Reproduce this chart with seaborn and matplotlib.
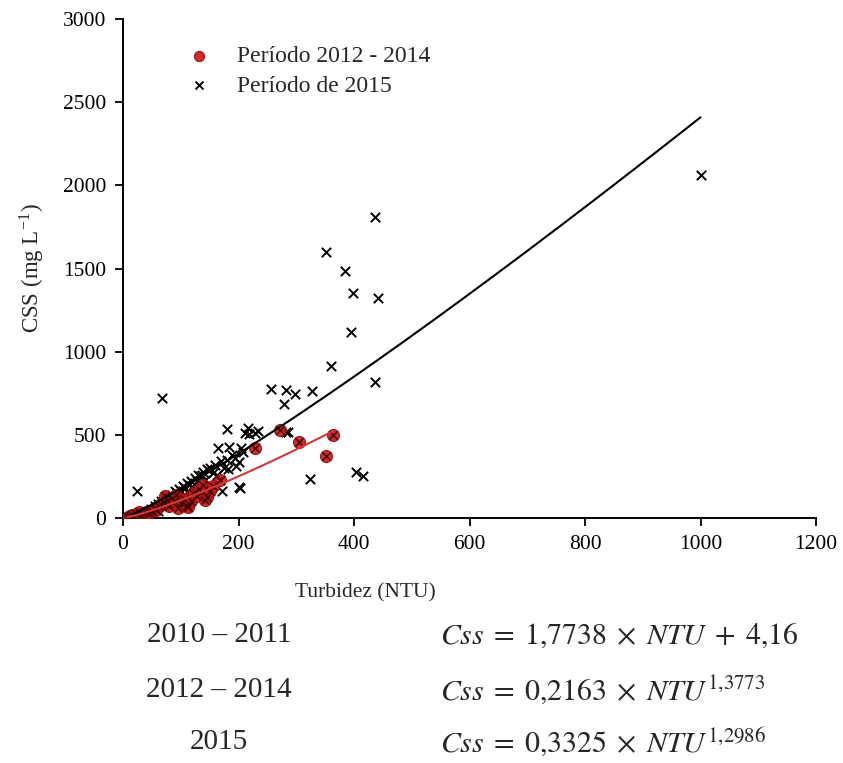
import numpy as np
import pandas as pd
import matplotlib
matplotlib.use("Agg")
import matplotlib.pyplot as plt
import seaborn as sns

# ---------------- data ----------------
ntu_1214 = [8, 12, 15, 18, 22, 27, 30, 35, 40, 45, 50, 55, 58, 62, 66, 70, 73, 76, 80, 84,
            88, 92, 96, 100, 105, 110, 113, 118, 122, 128, 132, 138, 142, 145, 150, 155,
            168, 229, 271, 304, 352, 363]
css_1214 = [5, 15, 18, 10, 25, 38, 20, 30, 35, 28, 45, 60, 50, 70, 85, 95, 132, 110, 75, 120,
            100, 140, 60, 90, 115, 70, 68, 105, 150, 130, 175, 200, 110, 128, 160, 190,
            228, 419, 529, 459, 373, 499]

ntu_2015 = [30, 35, 40, 45, 48, 52, 55, 58, 60, 63, 66, 70, 72, 75, 78, 80, 84, 88, 90, 94,
            97, 100, 104, 108, 110, 114, 118, 120, 124, 128, 130, 134, 138, 142, 145, 150,
            155, 160, 170, 175, 136, 112, 126, 140, 60, 85, 98, 106, 116, 150, 162, 168,
            188, 196, 133, 142, 165, 184, 205, 207, 194, 200, 180, 182, 180, 216, 233, 211,
            229, 219, 285, 279, 256, 282, 298, 327, 283, 324, 403, 416, 171, 203, 201, 24,
            67, 361, 436, 394, 398, 442, 385, 352, 437, 1000]
css_2015 = [15, 25, 30, 40, 55, 45, 70, 60, 85, 75, 100, 90, 115, 105, 130, 120, 140, 125, 160, 150,
            175, 165, 190, 180, 210, 200, 225, 185, 240, 220, 260, 250, 275, 230, 293, 300,
            270, 320, 340, 300, 259, 150, 160, 180, 40, 70, 110, 130, 120, 200, 260, 230,
            380, 310, 158, 128, 419, 429, 419, 399, 359, 339, 349, 293, 533, 543, 523, 509,
            509, 503, 515, 686, 776, 770, 746, 766, 519, 233, 279, 253, 164, 178, 184, 160,
            722, 915, 815, 1120, 1350, 1320, 1485, 1600, 1810, 2065]

# power-law trend lines as drawn in the figure (coefficient, exponent, NTU range)
trend_1214 = (0.37, 1.23, 8, 363)
trend_2015 = (0.935, 1.137, 15, 1000)

legend_labels = ["Período 2012 - 2014", "Período de 2015"]
eq_years = ["2010 – 2011", "2012 – 2014", "2015"]
eq_texts = [r"$Css\;=\;1{,}7738\;\times\;NTU\;+\;4{,}16$",
            r"$Css\;=\;0{,}2163\;\times\;NTU^{1{,}3773}$",
            r"$Css\;=\;0{,}3325\;\times\;NTU^{1{,}2986}$"]

# ---------------- figure ----------------
sns.set_theme(style="ticks")
plt.rcParams["font.family"] = ["Liberation Serif", "DejaVu Serif"]
plt.rcParams["mathtext.fontset"] = "stix"

W, H = 843, 763
fig = plt.figure(figsize=(W / 100, H / 100), dpi=100)
ax = fig.add_axes([123 / W, 1 - 518 / H, (816 - 123) / W, (518 - 19) / H])

df1 = pd.DataFrame({"NTU": ntu_1214, "CSS": css_1214})
df2 = pd.DataFrame({"NTU": ntu_2015, "CSS": css_2015})

def trend_df(t):
    a, b, x0, x1 = t
    x = np.linspace(x0, x1, 200)
    return pd.DataFrame({"NTU": x, "CSS": a * x ** b})

# 2015 crosses
sns.scatterplot(data=df2, x="NTU", y="CSS", ax=ax, marker="x", color="black",
                s=45, linewidth=1.4, label=legend_labels[1], zorder=3)
# 2012-2014 red circles with cross overlay
sns.scatterplot(data=df1, x="NTU", y="CSS", ax=ax, marker="o", color="#cc1515",
                edgecolor="#8a1010", s=75, linewidth=0.8, alpha=0.9,
                label=legend_labels[0], zorder=4)
sns.scatterplot(data=df1, x="NTU", y="CSS", ax=ax, marker="x", color="#3a0505",
                s=35, linewidth=1.0, legend=False, zorder=5)

sns.lineplot(data=trend_df(trend_2015), x="NTU", y="CSS", ax=ax, color="black",
             linewidth=1.5, legend=False, zorder=6)
sns.lineplot(data=trend_df(trend_1214), x="NTU", y="CSS", ax=ax, color="#d23a3a",
             linewidth=1.5, legend=False, zorder=6)

ax.set_xlim(0, 1200)
ax.set_ylim(0, 3000)
ax.set_xticks(np.arange(0, 1201, 200))
ax.set_yticks(np.arange(0, 3001, 500))
sns.despine(ax=ax)
for s in ["left", "bottom"]:
    ax.spines[s].set_linewidth(1.4)
    ax.spines[s].set_color("black")
ax.tick_params(axis="both", direction="out", length=6, width=1.3, labelsize=15.5,
               colors="black", pad=6)

ax.set_xlabel("Turbidez (NTU)", fontsize=15.5)
ax.xaxis.set_label_coords(0.35, -0.13)
ax.set_ylabel("CSS (mg L$^{\\mathregular{-1}}$)", fontsize=16.5, labelpad=12)

handles, labels = ax.get_legend_handles_labels()
order = [labels.index(legend_labels[0]), labels.index(legend_labels[1])]
h = [handles[i] for i in order]
leg = ax.legend(h, legend_labels, loc="upper left", bbox_to_anchor=(0.045, 0.99),
                frameon=False, fontsize=17, handletextpad=0.6, labelspacing=0.35,
                markerscale=0.85)

# equations below the chart
ys = [635, 690, 742]
for yr, eq, y in zip(eq_years, eq_texts, ys):
    fig.text(219 / W, 1 - y / H, yr, ha="center", va="center", fontsize=21)
    fig.text(440 / W, 1 - y / H, eq, ha="left", va="center", fontsize=21.5)

fig.savefig("out.png", dpi=100)
